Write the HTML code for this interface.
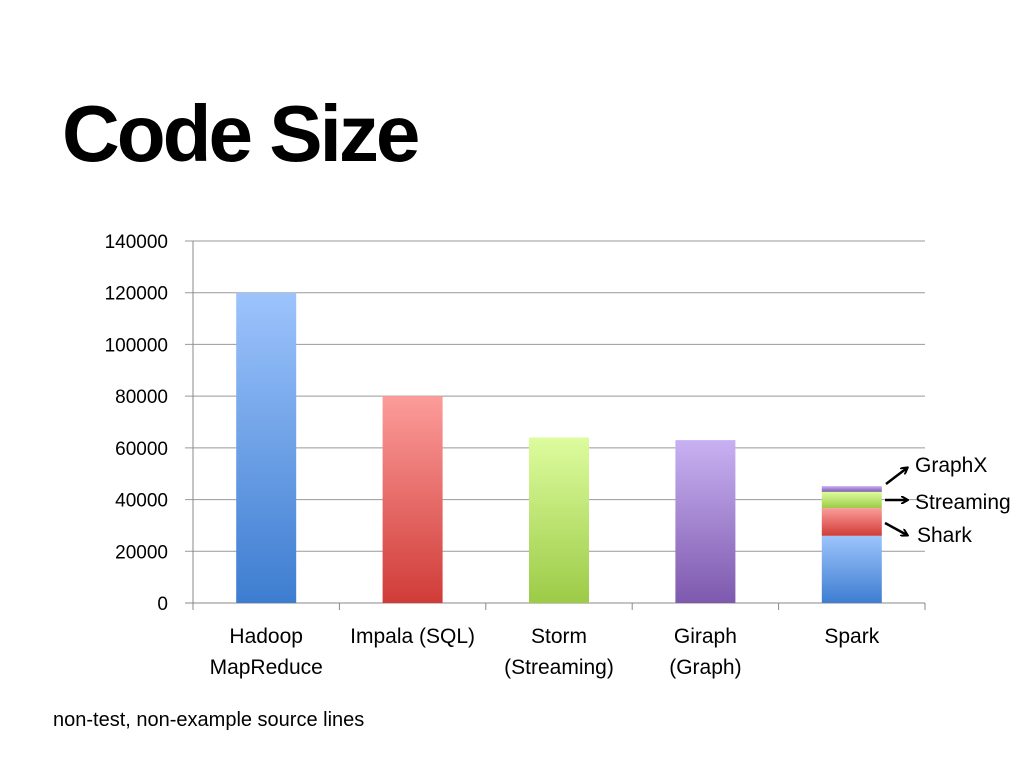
<!DOCTYPE html>
<html><head><meta charset="utf-8">
<style>
body{margin:0;background:#fff;font-family:"Liberation Sans",sans-serif;}
#wrap{position:relative;width:1024px;height:768px;overflow:hidden;}
h1{position:absolute;left:62px;top:88px;margin:0;font-size:80px;font-weight:bold;letter-spacing:-3px;line-height:92px;color:#000;}
#note{position:absolute;left:53px;top:709px;font-size:20px;color:#000;}
svg{position:absolute;left:0;top:0;}
</style></head>
<body>
<div id="wrap">
<h1>Code Size</h1>
<svg id="chart" width="1024" height="768">
<defs>
<linearGradient id="gblue" x1="0" y1="0" x2="0" y2="1"><stop offset="0" stop-color="#9dc4fc"/><stop offset="1" stop-color="#3d7dd0"/></linearGradient>
<linearGradient id="gred" x1="0" y1="0" x2="0" y2="1"><stop offset="0" stop-color="#fc9c9a"/><stop offset="1" stop-color="#d03c38"/></linearGradient>
<linearGradient id="ggreen" x1="0" y1="0" x2="0" y2="1"><stop offset="0" stop-color="#ddfc9e"/><stop offset="1" stop-color="#9ccb47"/></linearGradient>
<linearGradient id="gpurple" x1="0" y1="0" x2="0" y2="1"><stop offset="0" stop-color="#c8b1f2"/><stop offset="1" stop-color="#7e59ae"/></linearGradient>
<marker id="arr" markerWidth="8" markerHeight="8" refX="6" refY="4" orient="auto" markerUnits="userSpaceOnUse"><path d="M0,0 L7,4 L0,8" fill="none" stroke="#000" stroke-width="2"/></marker>
</defs>
</svg>
<div id="note">non-test, non-example source lines</div>
</div>
<script>
const categories=[["Hadoop","MapReduce"],["Impala (SQL)"],["Storm","(Streaming)"],["Giraph","(Graph)"],["Spark"]];
const singleValues=[120000,80000,64000,63000,null];
const singleFills=["gblue","gred","ggreen","gpurple",null];
const sparkSegments=["Core","Shark","Streaming","GraphX"];
const sparkValues=[26000,10700,6300,2200];
const sparkFills=["gblue","gred","ggreen","gpurple"];
const yTicks=[0,20000,40000,60000,80000,100000,120000,140000];

const NS="http://www.w3.org/2000/svg";
const svg=document.getElementById('chart');
const X0=193,X1=925,Y0=603,Y1=241,YMAX=140000,BW=60;
const band=(X1-X0)/categories.length;
const y=v=>Y0-(v/YMAX)*(Y0-Y1);
const xc=i=>X0+band*(i+0.5);
function mk(t,a){const e=document.createElementNS(NS,t);for(const k in a)e.setAttribute(k,a[k]);svg.appendChild(e);return e;}

yTicks.forEach(t=>{
  const g=mk('line',{x1:185,x2:X1,y1:y(t),y2:y(t),stroke:t===0?'#888':'#999','stroke-width':1});
  
  
  const l=mk('text',{x:168,y:y(t)+7,'text-anchor':'end','font-size':19,fill:'#000'});
  l.textContent=t;
  
  
});
const ax=mk('line',{x1:X0,x2:X0,y1:Y1,y2:Y0,stroke:'#888'});


for(let i=0;i<=categories.length;i++){
  const tk=mk('line',{x1:X0+band*i,x2:X0+band*i,y1:Y0,y2:Y0+7,stroke:'#888'});
  
  
}
categories.forEach((c,i)=>{
  c.forEach((ln,j)=>{
    const t=mk('text',{x:xc(i),y:643+j*31,'text-anchor':'middle','font-size':21,fill:'#000'});
    t.textContent=ln;
    
    
  });
  if(singleValues[i]!=null){
    const r=mk('rect',{x:xc(i)-BW/2,y:y(singleValues[i]),width:BW,height:Y0-y(singleValues[i]),fill:'url(#'+singleFills[i]+')'});
    
    
  }
});
let cum=0;const si=4;
sparkValues.forEach((v,k)=>{
  const r=mk('rect',{x:xc(si)-BW/2,y:y(cum+v),width:BW,height:y(cum)-y(cum+v),fill:'url(#'+sparkFills[k]+')'});
  
  
  cum+=v;
});
const ann=[["GraphX",886,484,907,468,915,472],["Streaming",885,500,907,500,915,509],["Shark",885,523,907,535,917,542]];
ann.forEach(a=>{
  const l=mk('line',{x1:a[1],y1:a[2],x2:a[3],y2:a[4],stroke:'#000','stroke-width':2.5,'marker-end':'url(#arr)'});
  
  
  const t=mk('text',{x:a[5],y:a[6],'font-size':21,fill:'#000'});
  t.textContent=a[0];
  
  
});
</script>
</body></html>
